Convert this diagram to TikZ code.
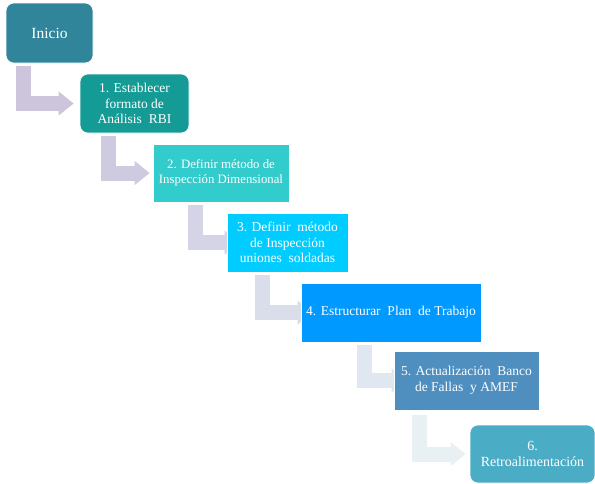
\documentclass[tikz,border=0pt]{standalone}
\usepackage{fontspec}
\setmainfont{Liberation Serif}
\newfontfamily\stepfont{Liberation Serif}
\usetikzlibrary{arrows.meta}

\definecolor{cInicio}{RGB}{49,133,155}
\definecolor{cUno}{RGB}{20,155,150}
\definecolor{cDos}{RGB}{51,204,204}
\definecolor{cTres}{RGB}{0,204,255}
\definecolor{cCuatro}{RGB}{0,153,255}
\definecolor{cCinco}{RGB}{79,143,192}
\definecolor{cSeis}{RGB}{75,172,198}

\definecolor{aUno}{RGB}{204,197,219}
\definecolor{aDos}{RGB}{206,203,224}
\definecolor{aTres}{RGB}{212,212,230}
\definecolor{aCuatro}{RGB}{218,222,235}
\definecolor{aCinco}{RGB}{224,231,240}
\definecolor{aSeis}{RGB}{233,240,244}

\pgfdeclarelayer{back}
\pgfsetlayers{back,main}

\tikzset{
  stepbox/.style={draw=white, line width=0.6pt, text=white, align=center,
    inner sep=0pt, font=\stepfont\fontsize{13.5}{15.5}\selectfont},
  roundbox/.style={stepbox, rounded corners=8pt},
  bentarrow/.style={line width=15pt, line join=miter,
    -{Triangle[length=15pt,width=23pt]}},
}

\begin{document}
\begin{tikzpicture}[x=1pt,y=-1pt]
\useasboundingbox (0,0) rectangle (595,483);

% step boxes
\path
  node[roundbox, fill=cInicio, minimum width=87pt, minimum height=60pt,
       font=\stepfont\fontsize{15.5}{17.5}\selectfont] (s0) at (49.5,33) {Inicio}
  node[roundbox, fill=cUno, minimum width=109pt, minimum height=59pt]
       (s1) at (134.5,103.5) {1. Establecer\\formato de\\Análisis\ \ RBI}
  node[stepbox, fill=cDos, minimum width=136pt, minimum height=58pt,
       font=\stepfont\fontsize{12.8}{15}\selectfont]
       (s2) at (221,173) {2. Definir método de\\Inspección Dimensional}
  node[stepbox, fill=cTres, minimum width=121pt, minimum height=59pt]
       (s3) at (287.5,242.5) {3. Definir\ \ método\\de Inspección\\uniones\ \ soldadas}
  node[stepbox, fill=cCuatro, minimum width=180pt, minimum height=59pt]
       (s4) at (391,312.5) {4. Estructurar\ \ Plan\ \ de Trabajo}
  node[stepbox, fill=cCinco, minimum width=145pt, minimum height=59pt]
       (s5) at (466.5,380.5) {5. Actualización\ \ Banco\\de Fallas\ \ y AMEF}
  node[roundbox, fill=cSeis, minimum width=125pt, minimum height=58pt,
       font=\stepfont\fontsize{14}{16}\selectfont]
       (s6) at (532.5,454) {6.\\Retroalimentación};

% bent arrows, drawn behind the boxes
\begin{pgfonlayer}{back}
  \draw[bentarrow, aUno]
    ([xshift=17.5pt,yshift=-3pt]s0.south west) |- ([xshift=-6pt]s1.west);
  \draw[bentarrow, aDos]
    ([xshift=28.5pt,yshift=-3pt]s1.south west) |- ([xshift=-3pt]s2.west);
  \draw[bentarrow, aTres]
    ([xshift=42.5pt,yshift=-3pt]s2.south west) |- ([xshift=13pt]s3.west);
  \draw[bentarrow, aCuatro]
    ([xshift=35.5pt,yshift=-3pt]s3.south west) |- ([xshift=12pt]s4.west);
  \draw[bentarrow, aCinco]
    ([xshift=63.5pt,yshift=-3pt]s4.south west) |- ([xshift=13pt]s5.west);
  \draw[bentarrow, aSeis]
    ([xshift=26pt,yshift=-5pt]s5.south west) |- ([xshift=-4pt]s6.west);
\end{pgfonlayer}
\end{tikzpicture}
\end{document}
